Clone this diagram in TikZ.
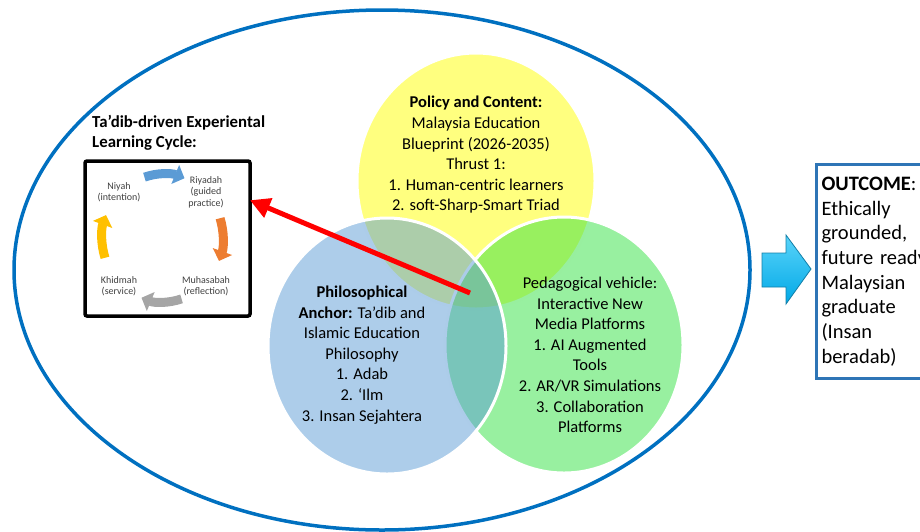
\documentclass[tikz,border=0pt]{standalone}
\usepackage{fontspec}
\setmainfont{Carlito}
\usepackage{tikz}
\usepackage{xcolor}
\usetikzlibrary{arrows.meta}

\definecolor{ringblue}{HTML}{0070C0}
\definecolor{boxblue}{HTML}{2E75B6}
\definecolor{policy}{HTML}{FFFF00}
\definecolor{vehicle}{HTML}{32E141}
\definecolor{anchor}{HTML}{5B9BD5}
\definecolor{cyclegray}{HTML}{404040}
\definecolor{niyahblue}{HTML}{5B9BD5}
\definecolor{riyadahorange}{HTML}{ED7D31}
\definecolor{muhasabahgray}{HTML}{A5A5A5}
\definecolor{khidmahyellow}{HTML}{FFC000}
\definecolor{arrowtop}{HTML}{5AD4FA}
\definecolor{arrowbottom}{HTML}{00A8E6}
\definecolor{arrowedge}{HTML}{137FA8}

\begin{document}
\begin{tikzpicture}[x=1pt, y=-1pt,
    venn/.style={draw=white, line width=3pt, fill opacity=0.5},
    venntext/.style={align=center, inner sep=0pt, font=\fontsize{16.5}{20.6}\selectfont},
    cyclelabel/.style={align=center, inner sep=0pt, text=cyclegray, font=\fontsize{10}{11.5}\selectfont},
    cyclearrow/.style={line width=9pt, -{Triangle[length=10pt,width=20pt]}}]
    \useasboundingbox (0,0) rectangle (920,531);
    \clip (0,0) rectangle (920,531);

    % outer ring
    \draw[ringblue, line width=3.5pt] (382,270) ellipse [x radius=368, y radius=260];

    % the three circles
    \draw[venn, fill=policy] (476,181) ellipse [x radius=119, y radius=128];
    \draw[venn, fill=vehicle] (564,345) ellipse [x radius=119, y radius=128];
    \draw[venn, fill=anchor] (387,346) ellipse [x radius=119, y radius=128];

    \node[venntext] (policy) at (476,155) {\textbf{Policy and Content:}\\Malaysia Education\\Blueprint (2026-2035)\\Thrust 1:\\1. Human-centric learners\\2. soft-Sharp-Smart Triad};
    \node[venntext] (anchor) at (362,355) {\textbf{Philosophical}\\\textbf{Anchor:} Ta’dib and\\Islamic Education\\Philosophy\\1. Adab\\2. ‘Ilm\\3. Insan Sejahtera};
    \node[venntext] (vehicle) at (590,355) {Pedagogical vehicle:\\Interactive New\\Media Platforms\\1. AI Augmented\\Tools\\2. AR/VR Simulations\\3. Collaboration\\Platforms};

    % learning cycle
    \node[anchor=west, align=left, inner sep=0pt, font=\bfseries\fontsize{16.8}{20}\selectfont] (title) at (92,133) {Ta’dib-driven Experiental\\Learning Cycle:};
    \node[draw, line width=3.5pt, rounded corners=2pt, minimum width=165pt, minimum height=155pt] (cyclebox) at (167.5,238.5) {};
    \node[cyclelabel] (niyah) at (119,192) {Niyah\\(intention)};
    \node[cyclelabel] (riyadah) at (206,192) {Riyadah\\(guided\\practice)};
    \node[cyclelabel] (muhasabah) at (206,286) {Muhasabah\\(reflection)};
    \node[cyclelabel] (khidmah) at (119,286) {Khidmah\\(service)};
    \draw[cyclearrow, niyahblue] (163,238) ++(-108:60 and 64) arc [start angle=-108, end angle=-69, x radius=60, y radius=64];
    \draw[cyclearrow, riyadahorange] (163,238) ++(-18:60 and 64) arc [start angle=-18, end angle=21, x radius=60, y radius=64];
    \draw[cyclearrow, muhasabahgray] (163,238) ++(72:60 and 64) arc [start angle=72, end angle=111, x radius=60, y radius=64];
    \draw[cyclearrow, khidmahyellow] (163,238) ++(162:61 and 64) arc [start angle=162, end angle=201, x radius=61, y radius=64];

    % link back to the cycle
    \coordinate (hub) at (470,293);
    \draw[red, line width=5pt, shorten >=-2pt, -{Triangle[length=20pt,width=20pt]}] (hub) -- (cyclebox.24);

    % outcome
    \shade[top color=arrowtop, bottom color=arrowbottom, draw=arrowedge, line width=0.8pt]
        (762,253) -- (786,253) -- (786,235) -- (811,269) -- (786,304) -- (786,287) -- (762,287) -- cycle;
    \node[draw=boxblue, line width=3pt, anchor=north west, minimum height=214pt, text width=120pt,
        inner xsep=5pt, align=left, font=\fontsize{20.5}{24.7}\selectfont] (outcome) at (815,163)
        {\textbf{OUTCOME}:\\Ethically\\grounded,\\future ready\\Malaysian\\graduate\\(Insan\\beradab)};
\end{tikzpicture}
\end{document}
